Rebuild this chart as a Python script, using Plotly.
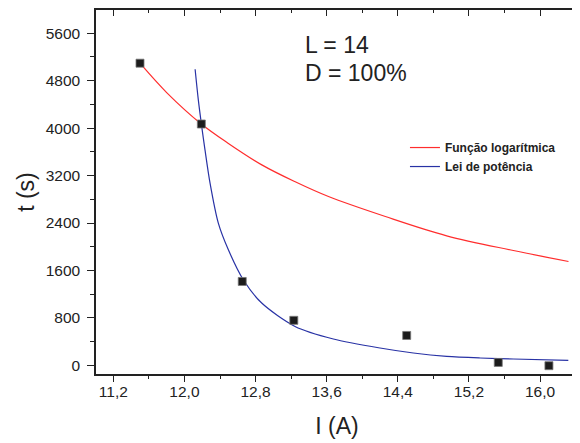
import plotly.graph_objects as go

# Measured data points
current_A = [11.50, 12.19, 12.65, 13.23, 14.50, 15.53, 16.10]
time_s = [5095, 4070, 1415, 760, 505, 50, -5]

# Curve: logarithmic fit (red)
log_x = [11.50, 11.80, 12.19, 12.49, 12.87, 13.24, 13.62, 14.26, 14.95, 15.70, 16.32]
log_y = [5095, 4600, 4070, 3747, 3381, 3100, 2847, 2510, 2185, 1937, 1752]

# Curve: power-law fit (blue)
pow_x = [12.12, 12.156, 12.194, 12.231, 12.288, 12.381, 12.494, 12.662, 12.869, 13.244, 13.675, 14.20, 14.575, 14.95, 15.325, 15.70, 16.318]
pow_y = [4993, 4476, 4030, 3634, 3073, 2399, 1949, 1444, 1051, 657, 445, 293, 209, 152, 125, 108, 84]

x_tickvals = [11.2, 12.0, 12.8, 13.6, 14.4, 15.2, 16.0]
x_ticktext = ["11,2", "12,0", "12,8", "13,6", "14,4", "15,2", "16,0"]
y_tickvals = [0, 800, 1600, 2400, 3200, 4000, 4800, 5600]

x_range = [11.005, 16.427]
y_range = [-145, 5992]

FONT = "Liberation Sans, Arial, sans-serif"
AX = "#222222"

fig = go.Figure()
fig.add_trace(go.Scatter(x=log_x, y=log_y, mode="lines", name="Função logarítmica",
                         line=dict(color="rgb(255,45,45)", width=1.2, shape="spline", smoothing=1.0)))
fig.add_trace(go.Scatter(x=pow_x, y=pow_y, mode="lines", name="Lei de potência",
                         line=dict(color="rgb(40,50,165)", width=1.2, shape="spline", smoothing=0.8)))
fig.add_trace(go.Scatter(x=current_A, y=time_s, mode="markers", showlegend=False,
                         marker=dict(symbol="square", size=8, color="#1c1c1c",
                                     line=dict(width=0.8, color="#777777"))))
fig.add_trace(go.Scatter(x=[None], y=[None], xaxis="x2", yaxis="y2", showlegend=False, hoverinfo="skip"))

fig.update_layout(
    width=572, height=435,
    margin=dict(l=88, r=2, t=2, b=69),
    paper_bgcolor="white", plot_bgcolor="white",
    font=dict(family=FONT, color="#222222"),
    showlegend=True,
    legend=dict(x=0.641, y=0.662, xanchor="left", yanchor="top", bgcolor="rgba(0,0,0,0)",
                font=dict(family=FONT, size=12, color="#222222", weight="bold"),
                tracegroupgap=0, itemwidth=30),
    xaxis=dict(range=x_range, showgrid=False, zeroline=False, showline=True, linecolor=AX, linewidth=1.5,
               automargin=False,
               ticks="outside", ticklen=6, tickwidth=1.3, tickcolor=AX, ticklabelstandoff=-3,
               tickvals=x_tickvals, ticktext=x_ticktext, tickfont=dict(size=15.5, family=FONT),
               minor=dict(ticks="outside", ticklen=3.5, tickwidth=1.1, tickcolor=AX, dtick=0.4, tick0=11.2, showgrid=False),
               title=dict(text="I (A)", font=dict(size=23, family=FONT), standoff=19)),
    yaxis=dict(range=y_range, showgrid=False, zeroline=False, showline=True, linecolor=AX, linewidth=1.5,
               automargin=False,
               ticks="outside", ticklen=7, tickwidth=1.3, tickcolor=AX, ticklabelstandoff=4,
               tickvals=y_tickvals, tickfont=dict(size=15.5, family=FONT),
               minor=dict(ticks="outside", ticklen=4, tickwidth=1.1, tickcolor=AX, dtick=400, tick0=0, showgrid=False),
               title=dict(text="t (s)", font=dict(size=23, family=FONT), standoff=5)),
    xaxis2=dict(range=x_range, overlaying="x", side="top", anchor="y", showgrid=False, zeroline=False,
                automargin=False,
                showline=True, linecolor=AX, linewidth=1.5, ticks="inside", ticklen=6, tickwidth=1.3,
                tickcolor=AX, tickvals=x_tickvals, showticklabels=False,
                minor=dict(ticks="inside", ticklen=3.5, tickwidth=1.1, tickcolor=AX, dtick=0.4, tick0=11.2)),
    yaxis2=dict(range=y_range, overlaying="y", side="right", anchor="x", showgrid=False, zeroline=False,
                automargin=False,
                showline=True, linecolor=AX, linewidth=1.5, ticks="inside", ticklen=6, tickwidth=1.3,
                tickcolor=AX, tickvals=y_tickvals, showticklabels=False),
)

fig.add_annotation(x=13.337, y=5403, xref="x", yref="y", text="L = 14", showarrow=False,
                   xanchor="left", yanchor="middle", font=dict(size=23, family=FONT, color="#222222"))
fig.add_annotation(x=13.337, y=4922, xref="x", yref="y", text="D = 100%", showarrow=False,
                   xanchor="left", yanchor="middle", font=dict(size=23, family=FONT, color="#222222"))

fig.write_html("out.html")
